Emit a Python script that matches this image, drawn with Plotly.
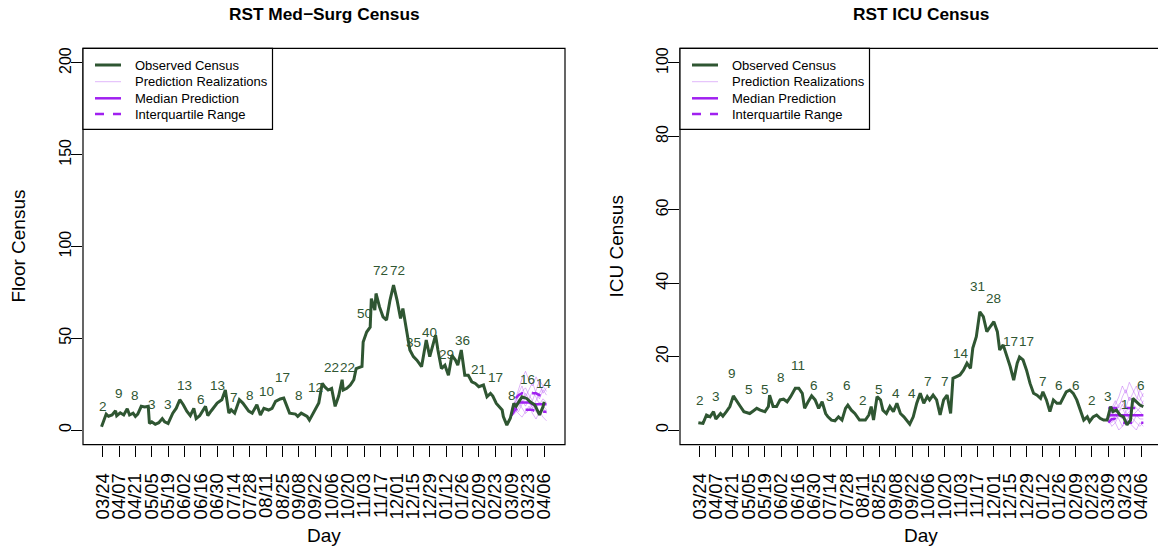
import plotly.graph_objects as go

W, H = 1158, 548
FONT = "Liberation Sans, Arial, Helvetica, sans-serif"
GREEN = "#2F5632"
PURPLE = "#A020F0"
LIGHT = "rgba(160,32,240,0.32)"

# ---------------- data ----------------
tick_labels = ["03/24", "04/07", "04/21", "05/05", "05/19", "06/02", "06/16", "06/30",
               "07/14", "07/28", "08/11", "08/25", "09/08", "09/22", "10/06", "10/20",
               "11/03", "11/17", "12/01", "12/15", "12/29", "01/12", "01/26", "02/09",
               "02/23", "03/09", "03/23", "04/06"]
tick_days = [0, 14, 28, 42, 56, 70, 84, 98, 112, 126, 140, 154, 168, 182, 196, 210,
             224, 238, 252, 266, 280, 294, 308, 322, 336, 350, 364, 378]

floor_labels = [2, 9, 8, 3, 3, 13, 6, 13, 7, 8, 10, 17, 8, 12, 22, 22, 50, 72, 72, 35,
                40, 29, 36, 21, 17, 8, 16, 14]
icu_labels = [2, 3, 9, 5, 5, 8, 11, 6, 3, 6, 2, 5, 4, 4, 7, 7, 14, 31, 28, 17, 17, 7,
              6, 6, 2, 3, 1, 6]

legend_names = ["Observed Census", "Prediction Realizations", "Median Prediction",
                "Interquartile Range"]

# day = days since 2020-03-24
floor_day = [-1, 1, 3, 5, 8, 11, 12, 15, 18, 21, 23, 26, 28, 30, 33, 36, 38, 39, 40, 42,
             45, 48, 51, 53, 56, 60, 63, 66, 69, 72, 75, 78, 80, 83, 88, 90, 93, 98, 102,
             105, 108, 110, 113, 117, 120, 125, 128, 132, 135, 138, 142, 145, 148, 152,
             155, 158, 160, 165, 167, 170, 175, 177, 180, 185, 188, 190, 193, 196, 199,
             202, 205, 206, 209, 212, 215, 217, 222, 223, 226, 229, 230, 233, 234, 237,
             240, 243, 246, 249, 252, 255, 257, 260, 263, 266, 269, 273, 277, 280, 285,
             287, 290, 293, 296, 299, 302, 304, 307, 310, 313, 316, 319, 322, 326, 329,
             332, 334, 337, 342, 343, 346, 349, 352, 354, 359, 363, 366, 370, 374, 377, 378]
floor_obs = [1.8, 5.4, 8.7, 7.5, 8.2, 10.5, 7.8, 9.4, 8.2, 11.6, 8.2, 9.2, 7.4, 8.7, 12.9,
             12.5, 12.9, 12.9, 3.6, 4.5, 3.1, 4.0, 6.2, 4.5, 3.6, 9.2, 11.9, 16.5, 13.8,
             10.3, 7.8, 11.8, 6.2, 7.8, 12.9, 7.8, 10.5, 14.7, 16.5, 21.8, 9.2, 11.0, 9.2,
             16.5, 14.7, 10.3, 9.2, 13.8, 8.2, 11.8, 10.9, 11.8, 15.6, 16.9, 17.4, 12.9,
             9.2, 8.7, 7.4, 9.2, 7.4, 5.4, 9.2, 14.7, 25.5, 23.6, 21.8, 22.7, 12.9, 18.5,
             27.4, 21.8, 22.7, 24.5, 27.4, 33.5, 34.6, 48.0, 53.4, 56.0, 71.6, 65.3, 74.4,
             67.1, 61.7, 59.9, 70.8, 79.0, 70.8, 60.8, 66.2, 55.3, 43.6, 40.0, 38.1, 34.5,
             49.0, 40.0, 51.7, 43.6, 33.5, 35.3, 29.8, 40.7, 38.1, 35.3, 43.6, 29.8, 29.8,
             26.3, 25.4, 23.6, 24.5, 18.1, 19.9, 18.5, 14.5, 10.9, 7.3, 2.7, 6.4, 14.5,
             13.0, 18.1, 17.2, 15.4, 13.6, 8.2, 12.7, 15.4]

icu_day = [-1, 1, 3, 6, 9, 12, 14, 18, 20, 23, 26, 29, 32, 35, 38, 43, 46, 49, 52, 56, 59,
           60, 63, 66, 69, 72, 75, 78, 82, 85, 88, 90, 93, 96, 99, 102, 105, 108, 110, 113,
           116, 119, 122, 125, 127, 130, 133, 137, 142, 145, 147, 149, 152, 155, 157, 160,
           163, 166, 169, 172, 175, 177, 180, 183, 186, 189, 192, 195, 197, 200, 203, 206,
           209, 212, 215, 217, 220, 223, 226, 229, 232, 234, 237, 239, 240, 243, 246, 249,
           252, 255, 257, 260, 263, 266, 269, 272, 274, 277, 280, 283, 286, 289, 292, 294,
           297, 300, 303, 306, 309, 312, 314, 317, 320, 323, 326, 329, 332, 334, 337, 340,
           343, 346, 349, 352, 354, 357, 360, 363, 366, 369, 371, 374, 377, 380]
icu_obs = [2.0, 2.0, 1.8, 4.1, 3.6, 5.0, 3.0, 4.5, 3.8, 5.0, 6.4, 9.3, 7.7, 6.4, 5.0, 4.5,
           5.2, 5.9, 5.4, 5.0, 6.4, 9.5, 6.4, 6.4, 8.2, 8.4, 7.7, 9.1, 11.4, 11.4, 10.0,
           5.9, 7.7, 9.3, 8.2, 5.9, 7.7, 4.5, 3.6, 2.7, 2.5, 3.6, 2.7, 5.9, 6.8, 5.4, 4.5,
           2.7, 2.7, 4.1, 6.4, 2.7, 9.1, 8.2, 5.4, 4.5, 6.4, 5.0, 7.3, 4.5, 3.6, 2.7, 1.6,
           3.6, 7.3, 10.0, 7.3, 9.1, 8.2, 9.5, 8.2, 4.1, 8.2, 9.5, 4.5, 14.1, 14.5, 15.0,
           16.3, 18.2, 16.8, 22.3, 25.4, 30.9, 32.2, 30.9, 26.8, 28.2, 29.5, 26.8, 21.8,
           23.2, 20.4, 17.3, 13.6, 18.2, 19.9, 19.1, 16.3, 12.7, 10.0, 9.5, 8.6, 10.4, 8.2,
           5.0, 8.2, 7.3, 7.3, 9.1, 10.4, 10.9, 10.0, 8.2, 5.4, 2.7, 3.6, 2.3, 3.6, 4.1,
           3.2, 2.7, 2.7, 6.4, 5.0, 5.4, 4.1, 3.6, 1.4, 2.7, 8.6, 7.7, 6.8, 6.4]

pred_day = [350, 353, 356, 359, 362, 365, 368, 371, 374, 377, 380]
floor_real = [
    [8, 14, 20, 24, 18, 22, 26, 20, 17, 22, 19],
    [8, 12, 10, 14, 18, 15, 12, 16, 20, 24, 21],
    [8, 10, 15, 12, 9, 11, 14, 10, 8, 12, 9],
    [8, 16, 22, 28, 32, 27, 24, 29, 25, 20, 23],
    [8, 11, 9, 7, 10, 13, 9, 6, 10, 7, 5],
    [8, 13, 17, 15, 20, 17, 21, 18, 14, 17, 15],
    [8, 9, 12, 16, 13, 17, 14, 12, 15, 13, 11],
    [8, 15, 18, 21, 23, 19, 16, 22, 27, 24, 26],
]
floor_median = [8, 13, 15, 15, 15, 15, 14, 14, 14, 14, 14]
floor_q3 = [8, 17, 19, 20, 20, 20, 20, 20, 19, 19, 19]
floor_q1 = [8, 11, 12, 12, 11, 11, 11, 10, 10, 10, 10]

icu_real = [
    [3, 5, 7, 9, 12, 10, 13, 11, 9, 8, 10],
    [3, 2, 4, 3, 1, 2, 4, 3, 2, 1, 2],
    [3, 4, 3, 5, 6, 4, 5, 7, 6, 5, 4],
    [3, 6, 8, 6, 9, 11, 8, 10, 12, 9, 7],
    [3, 1, 2, 0, 1, 3, 2, 1, 0, 2, 1],
    [3, 4, 6, 5, 7, 5, 6, 4, 5, 6, 8],
    [3, 3, 2, 4, 3, 5, 3, 2, 4, 3, 3],
    [3, 5, 4, 7, 8, 6, 9, 7, 8, 11, 9],
]
icu_median = [4, 4, 4, 4, 4, 4, 4, 4, 4, 4, 4]
icu_q3 = [6, 6, 6, 6, 6, 6, 6, 6, 6, 6, 6]
icu_q1 = [2, 3, 3, 2, 2, 2, 2, 2, 2, 2, 2]

# ---------------- styles ----------------
STYLE = {
    "Observed Census": dict(color=GREEN, width=3),
    "Prediction Realizations": dict(color=LIGHT, width=1),
    "Median Prediction": dict(color=PURPLE, width=2.5),
    "Interquartile Range": dict(color=PURPLE, width=2.5, dash="dash"),
}

fig = go.Figure()


def add_panel(xa, ya, obs_day, obs, real, med, q1, q3):
    for r in real:
        fig.add_trace(go.Scatter(x=pred_day, y=r, mode="lines", xaxis=xa, yaxis=ya,
                                 line=STYLE["Prediction Realizations"],
                                 name="Prediction Realizations", showlegend=False,
                                 hoverinfo="skip"))
    fig.add_trace(go.Scatter(x=pred_day, y=med, mode="lines", xaxis=xa, yaxis=ya,
                             line=STYLE["Median Prediction"], name="Median Prediction",
                             showlegend=False))
    for q in (q3, q1):
        fig.add_trace(go.Scatter(x=pred_day, y=q, mode="lines", xaxis=xa, yaxis=ya,
                                 line=STYLE["Interquartile Range"], name="Interquartile Range",
                                 showlegend=False))
    fig.add_trace(go.Scatter(x=obs_day, y=obs, mode="lines", xaxis=xa, yaxis=ya,
                             line=STYLE["Observed Census"], name="Observed Census",
                             showlegend=False))


add_panel("x", "y", floor_day, floor_obs, floor_real, floor_median, floor_q1, floor_q3)
add_panel("x2", "y2", icu_day, icu_obs, icu_real, icu_median, icu_q1, icu_q3)

# ---------------- geometry (pixels) ----------------
L_left, L_right = 83, 565
R_left, R_right = 680, 1162
box_top, box_bot = 48.3, 444.7
px_day = 1.168
t0_left = 102.7
t0_right = 699.5


def fx(px):
    return px / W


def fy(py):
    return (H - py) / H


def axis_style(size, standoff):
    return dict(showgrid=False, zeroline=False, showline=False, ticks="outside",
                ticklen=11, tickcolor="black", tickwidth=1, tickangle=-90,
                ticklabelstandoff=standoff,
                tickfont=dict(family=FONT, size=size, color="black"))


fig.update_layout(
    width=W, height=H, margin=dict(l=0, r=0, t=0, b=0, autoexpand=False),
    paper_bgcolor="white", plot_bgcolor="white",
    font=dict(family=FONT, color="black"),
    showlegend=False,
    xaxis=dict(domain=[fx(L_left), fx(L_right)],
               range=[(L_left - t0_left) / px_day, (L_right - t0_left) / px_day],
               tickvals=tick_days, ticktext=tick_labels, **axis_style(18.5, 9)),
    yaxis=dict(domain=[fy(box_bot), fy(box_top)], range=[-8, 208],
               tickvals=[0, 50, 100, 150, 200], **axis_style(16, -6)),
    xaxis2=dict(domain=[fx(R_left), 1.0],
                range=[(R_left - t0_right) / px_day, (W - t0_right) / px_day],
                tickvals=tick_days, ticktext=tick_labels, anchor="y2",
                **axis_style(18.5, 9)),
    yaxis2=dict(domain=[fy(box_bot), fy(box_top)], range=[-4, 104], anchor="x2",
                tickvals=[0, 20, 40, 60, 80, 100], **axis_style(16, -6)),
)

shapes = []
ann = []
for x0, x1 in [(L_left, L_right), (R_left, R_right)]:
    shapes.append(dict(type="rect", xref="paper", yref="paper", x0=fx(x0), x1=fx(x1),
                       y0=fy(box_bot), y1=fy(box_top), line=dict(color="black", width=1.2),
                       fillcolor="rgba(0,0,0,0)", layer="above"))

# legend boxes (one per panel)
leg_w, leg_h = 189.5, 81
row_y = [65, 81.7, 98.3, 114]
for x0 in (L_left, R_left):
    shapes.append(dict(type="rect", xref="paper", yref="paper", x0=fx(x0), x1=fx(x0 + leg_w),
                       y0=fy(box_top + leg_h), y1=fy(box_top),
                       line=dict(color="black", width=1.2), fillcolor="white", layer="above"))
    for name, ry in zip(legend_names, row_y):
        shapes.append(dict(type="line", xref="paper", yref="paper", x0=fx(x0 + 12),
                           x1=fx(x0 + 38), y0=fy(ry), y1=fy(ry), line=STYLE[name],
                           layer="above"))
        ann.append(dict(x=fx(x0 + 50), y=fy(ry), xref="paper", yref="paper", text=name,
                        xanchor="left", yanchor="middle", showarrow=False,
                        font=dict(family=FONT, size=13, color="black")))
fig.update_layout(shapes=shapes)

# value labels
for d, v in zip(tick_days, floor_labels):
    ann.append(dict(x=d, y=v * 1.06 + 10.5, xref="x", yref="y", text=str(v), showarrow=False,
                    xanchor="center", yanchor="middle",
                    font=dict(family=FONT, size=13.5, color=GREEN)))
for d, v in zip(tick_days, icu_labels):
    ann.append(dict(x=d, y=v * 1.07 + 5.8, xref="x2", yref="y2", text=str(v), showarrow=False,
                    xanchor="center", yanchor="middle",
                    font=dict(family=FONT, size=13.5, color=GREEN)))
# titles
for cx, title, ytitle, ylx in [((L_left + L_right) / 2, "RST Med\u2212Surg Census", "Floor Census", 18),
                               ((R_left + R_right) / 2, "RST ICU Census", "ICU Census", 616)]:
    ann.append(dict(x=fx(cx), y=fy(14), xref="paper", yref="paper", text="<b>%s</b>" % title,
                    xanchor="center", yanchor="middle", showarrow=False,
                    font=dict(family=FONT, size=17.3, color="black")))
    ann.append(dict(x=fx(cx), y=fy(535), xref="paper", yref="paper", text="Day",
                    xanchor="center", yanchor="middle", showarrow=False,
                    font=dict(family=FONT, size=19, color="black")))
    ann.append(dict(x=fx(ylx), y=fy((box_top + box_bot) / 2), xref="paper", yref="paper",
                    text=ytitle, textangle=-90, xanchor="center", yanchor="middle",
                    showarrow=False, font=dict(family=FONT, size=19, color="black")))
fig.update_layout(annotations=ann)

fig.write_html("out.html", config={"displayModeBar": False, "staticPlot": True},
               post_script="document.body.style.margin='0px';")
